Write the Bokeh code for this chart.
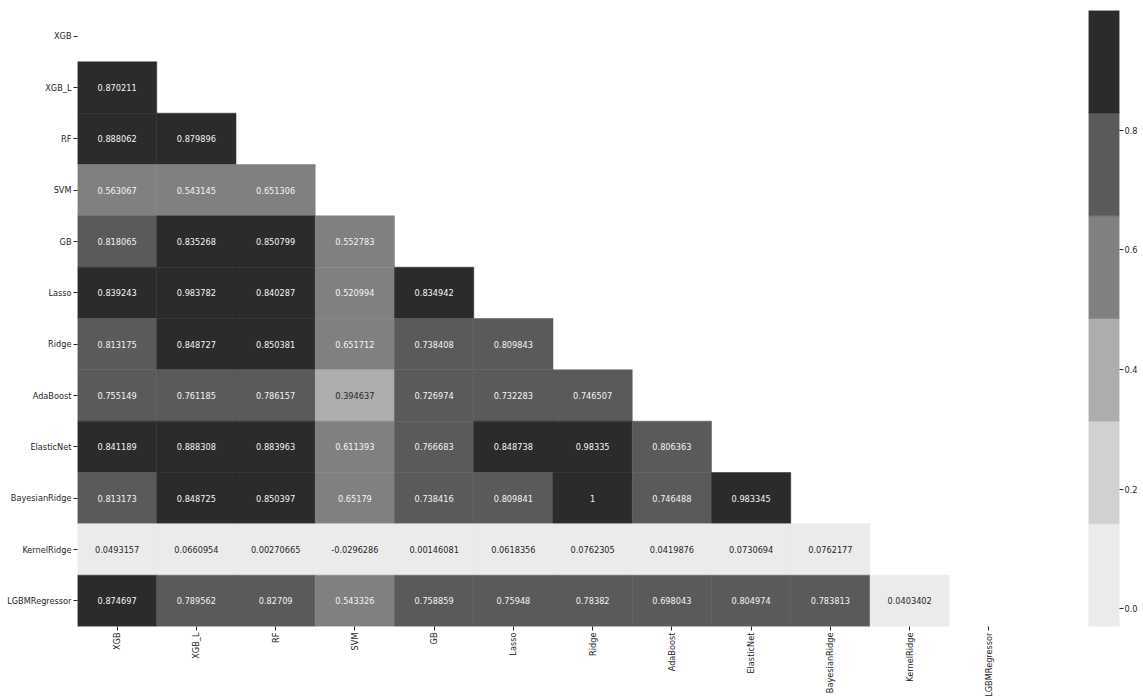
import numpy as np
from bokeh.plotting import figure
from bokeh.models import ColumnDataSource, FactorRange, Range1d, FixedTicker, PrintfTickFormatter
from bokeh.transform import linear_cmap
from bokeh.layouts import row
from bokeh.embed import file_html
from bokeh.resources import INLINE
from bokeh.core.properties import value

# Model names (rows top-to-bottom, columns left-to-right)
models = ["XGB", "XGB_L", "RF", "SVM", "GB", "Lasso", "Ridge", "AdaBoost",
          "ElasticNet", "BayesianRidge", "KernelRidge", "LGBMRegressor"]

# Lower triangle of the correlation matrix, one list per row
corr_xgb = []
corr_xgb_l = [0.870211]
corr_rf = [0.888062, 0.879896]
corr_svm = [0.563067, 0.543145, 0.651306]
corr_gb = [0.818065, 0.835268, 0.850799, 0.552783]
corr_lasso = [0.839243, 0.983782, 0.840287, 0.520994, 0.834942]
corr_ridge = [0.813175, 0.848727, 0.850381, 0.651712, 0.738408, 0.809843]
corr_adaboost = [0.755149, 0.761185, 0.786157, 0.394637, 0.726974, 0.732283, 0.746507]
corr_elasticnet = [0.841189, 0.888308, 0.883963, 0.611393, 0.766683, 0.848738,
                   0.98335, 0.806363]
corr_bayesianridge = [0.813173, 0.848725, 0.850397, 0.65179, 0.738416, 0.809841,
                      1, 0.746488, 0.983345]
corr_kernelridge = [0.0493157, 0.0660954, 0.00270665, -0.0296286, 0.00146081,
                    0.0618356, 0.0762305, 0.0419876, 0.0730694, 0.0762177]
corr_lgbm = [0.874697, 0.789562, 0.82709, 0.543326, 0.758859, 0.75948, 0.78382,
             0.698043, 0.804974, 0.783813, 0.0403402]

cbar_ticks = [0.0, 0.2, 0.4, 0.6, 0.8]

rows = [corr_xgb, corr_xgb_l, corr_rf, corr_svm, corr_gb, corr_lasso, corr_ridge,
        corr_adaboost, corr_elasticnet, corr_bayesianridge, corr_kernelridge, corr_lgbm]

xs, ys, vals = [], [], []
for i, name in enumerate(models):
    for j, v in enumerate(rows[i]):
        xs.append(models[j])
        ys.append(name)
        vals.append(v)

low, high = min(vals), max(vals)

palette = ["#ebebeb", "#d1d1d1", "#adadad", "#808080", "#5a5a5a", "#2b2b2b"]
text_palette = ["#262626", "#262626", "#262626", "#f5f5f5", "#f5f5f5", "#f5f5f5"]

FONT = "DejaVu Sans"
FS = "8.2px"
INK = "#262626"

src = ColumnDataSource(dict(x=xs, y=ys, v=vals, label=[f"{v:g}" for v in vals]))

p = figure(width=1060, height=699,
           x_range=FactorRange(*models), y_range=FactorRange(*reversed(models)),
           output_backend="svg", toolbar_location=None,
           min_border_left=77, min_border_right=32, min_border_top=10, min_border_bottom=72)

cell_colors = linear_cmap("v", palette, low, high)
p.rect(x="x", y="y", width=1, height=1, source=src,
       fill_color=cell_colors, line_color=cell_colors, line_width=0.5)
p.text(x="x", y="y", text="label", source=src,
       text_align="center", text_baseline="middle",
       text_font=value(FONT), text_font_size=FS,
       text_color=linear_cmap("v", text_palette, low, high))

p.grid.visible = False
p.outline_line_color = None
p.xaxis.major_label_orientation = np.pi / 2
for ax in (p.xaxis[0], p.yaxis[0]):
    ax.axis_line_color = None
    ax.major_tick_in = 0
    ax.major_tick_out = 4
    ax.major_tick_line_color = INK
    ax.major_label_standoff = 2
    ax.major_label_text_font = FONT
    ax.major_label_text_font_size = FS
    ax.major_label_text_color = INK

# Colour scale: one band per palette bin between the data min and max
edges = np.linspace(low, high, len(palette) + 1)
cb = figure(width=83, height=699, x_range=Range1d(0, 1), y_range=Range1d(low, high),
            x_axis_location=None, y_axis_location="right",
            output_backend="svg", toolbar_location=None,
            min_border_left=28, min_border_right=24, min_border_top=10, min_border_bottom=72)
cb.quad(left=0, right=1, bottom=edges[:-1], top=edges[1:],
        fill_color=palette, line_color=palette, line_width=0.5)
cb.grid.visible = False
cb.outline_line_color = None
cax = cb.yaxis[0]
cax.ticker = FixedTicker(ticks=cbar_ticks)
cax.formatter = PrintfTickFormatter(format="%.1f")
cax.minor_tick_line_color = None
cax.axis_line_color = None
cax.major_tick_in = 0
cax.major_tick_out = 4
cax.major_tick_line_color = INK
cax.major_label_standoff = 1
cax.major_label_text_font = FONT
cax.major_label_text_font_size = FS
cax.major_label_text_color = INK

layout = row(p, cb)
open("out.html", "w").write(file_html(layout, INLINE))
